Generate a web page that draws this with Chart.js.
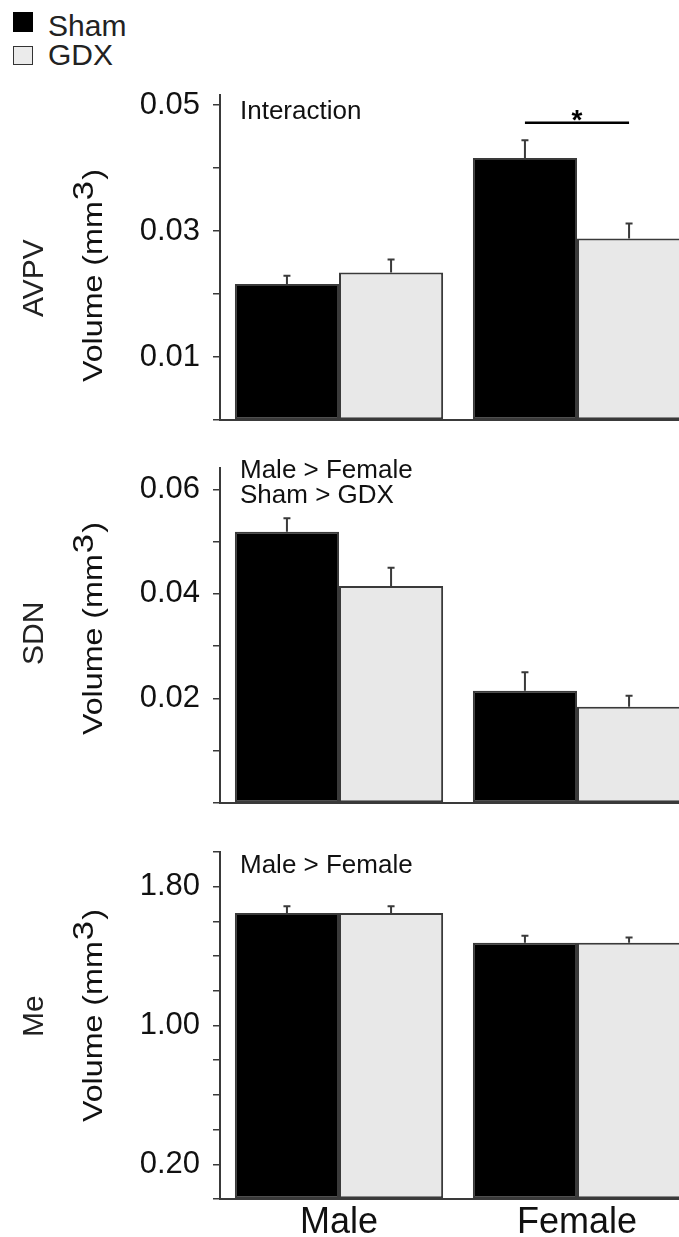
<!DOCTYPE html>
<html>
<head>
<meta charset="utf-8">
<script src="https://cdn.jsdelivr.net/npm/chart.js@4"></script>
<style>
html, body { margin: 0; padding: 0; overflow: hidden; background: #fff; width: 679px; height: 1237px; }
body { position: relative; font-family: 'Liberation Sans', Arial, sans-serif; }
canvas { position: absolute; left: 0; }
.key { position: absolute; left: 13px; width: 20px; height: 20px; box-sizing: border-box; }
.keytxt { position: absolute; left: 48px; font-size: 30px; line-height: 30px; color: #222; }
</style>
</head>
<body>
<div class="key" style="top:12px;background:#000"></div>
<div class="keytxt" style="top:11px">Sham</div>
<div class="key" style="top:46px;height:19px;background:#ebebeb;border:1.5px solid #333"></div>
<div class="keytxt" style="top:40px">GDX</div>
<canvas id="avpv" width="700" height="430" style="top:0"></canvas>
<canvas id="sdn" width="700" height="380" style="top:430px"></canvas>
<canvas id="me" width="700" height="427" style="top:810px"></canvas>
<script>
const groups = ['Male', 'Female'];

// AVPV
const avpvSham = [0.0216, 0.0416];
const avpvGdx = [0.0234, 0.0288];
const avpvShamErr = [0.0013, 0.0028];
const avpvGdxErr = [0.0021, 0.0024];
const avpvTicks = [0, 0.01, 0.02, 0.03, 0.04, 0.05];
const avpvTickLabels = ['', '0.01', '', '0.03', '', '0.05'];

// SDN
const sdnSham = [0.0519, 0.0215];
const sdnGdx = [0.0415, 0.0184];
const sdnShamErr = [0.0026, 0.0035];
const sdnGdxErr = [0.0035, 0.0021];
const sdnTicks = [0, 0.01, 0.02, 0.03, 0.04, 0.05, 0.06];
const sdnTickLabels = ['', '', '0.02', '', '0.04', '', '0.06'];

// Me
const meSham = [1.649, 1.477];
const meGdx = [1.649, 1.477];
const meShamErr = [0.038, 0.040];
const meGdxErr = [0.038, 0.030];
const meTicks = [0, 0.2, 0.4, 0.6, 0.8, 1.0, 1.2, 1.4, 1.6, 1.8, 2.0];
const meTickLabels = ['', '0.20', '', '', '', '1.00', '', '', '', '1.80', ''];

const FONT = "'Liberation Sans', Arial, sans-serif";
const INK = '#111';
const LINE = '#3a3a3a';

const errorBars = {
    id: 'errorBars',
    afterDatasetsDraw(chart) {
        const ctx = chart.ctx;
        const y = chart.scales.y;
        ctx.save();
        ctx.strokeStyle = LINE;
        ctx.lineWidth = 2;
        chart.data.datasets.forEach((ds, i) => {
            chart.getDatasetMeta(i).data.forEach((bar, j) => {
                const top = y.getPixelForValue(ds.data[j] + ds.errors[j]);
                ctx.beginPath();
                ctx.moveTo(bar.x, bar.y);
                ctx.lineTo(bar.x, top);
                ctx.moveTo(bar.x - 3.5, top);
                ctx.lineTo(bar.x + 3.5, top);
                ctx.stroke();
            });
        });
        ctx.restore();
    }
};

function vtext(ctx, x, y, draw) {
    ctx.save();
    ctx.translate(x, y);
    ctx.rotate(-Math.PI / 2);
    draw();
    ctx.restore();
}

const panelText = {
    id: 'panelText',
    afterDraw(chart, args, opts) {
        const ctx = chart.ctx;
        const area = chart.chartArea;
        ctx.save();
        ctx.fillStyle = INK;
        ctx.textBaseline = 'alphabetic';
        ctx.textAlign = 'left';

        ctx.font = '26px ' + FONT;
        opts.notes.forEach((t, k) => ctx.fillText(t, area.left + 20, area.top + opts.noteY + k * 25));

        // region name
        ctx.fillStyle = '#222';
        vtext(ctx, 43, opts.nameY, () => {
            ctx.font = '30px ' + FONT;
            ctx.fillText(opts.name, 0, 0);
        });

        // axis title with superscript
        ctx.fillStyle = INK;
        vtext(ctx, 102, opts.titleY, () => {
            ctx.scale(1.15, 1);
            ctx.font = '28px ' + FONT;
            const a = 'Volume (mm';
            ctx.fillText(a, 0, 0);
            let w = ctx.measureText(a).width;
            ctx.font = '30px ' + FONT;
            ctx.fillText('3', w + 1, -9);
            w += ctx.measureText('3').width + 2;
            ctx.font = '28px ' + FONT;
            ctx.fillText(')', w, 0);
        });

        if (opts.sig) {
            const y = chart.scales.y.getPixelForValue(opts.sig.level);
            const m0 = chart.getDatasetMeta(0).data[opts.sig.index];
            const m1 = chart.getDatasetMeta(1).data[opts.sig.index];
            ctx.strokeStyle = '#000';
            ctx.lineWidth = 2.5;
            ctx.beginPath();
            ctx.moveTo(m0.x, y);
            ctx.lineTo(m1.x, y);
            ctx.stroke();
            ctx.font = 'bold 28px ' + FONT;
            ctx.textAlign = 'center';
            ctx.fillStyle = '#000';
            ctx.fillText('*', (m0.x + m1.x) / 2, y + 6);
        }
        ctx.restore();
    }
};

function makePanel(id, sham, gdx, shamErr, gdxErr, yMax, ticks, tickLabels, pad, xHeight, text) {
    return new Chart(document.getElementById(id), {
        type: 'bar',
        data: {
            labels: groups,
            datasets: [
                { label: 'Sham', data: sham, errors: shamErr, backgroundColor: '#000', borderColor: LINE, borderWidth: 2, borderSkipped: false },
                { label: 'GDX', data: gdx, errors: gdxErr, backgroundColor: '#e8e8e8', borderColor: LINE, borderWidth: 2, borderSkipped: false }
            ]
        },
        options: {
            responsive: false,
            animation: false,
            events: [],
            categoryPercentage: 0.875,
            barPercentage: 1.0,
            layout: { padding: pad },
            plugins: {
                legend: { display: false },
                tooltip: { enabled: false },
                panelText: text
            },
            scales: {
                x: {
                    afterFit: s => { s.height = xHeight; s.paddingLeft = 0; s.paddingRight = 0; },
                    grid: { display: false, drawTicks: false },
                    border: { display: true, color: LINE, width: 2 },
                    ticks: {
                        display: xHeight > 0,
                        color: INK,
                        padding: 2,
                        font: { family: FONT, size: 36 }
                    }
                },
                y: {
                    min: 0,
                    max: yMax,
                    afterFit: s => { s.width = 220; s.paddingTop = 0; s.paddingBottom = 0; },
                    afterBuildTicks: s => { s.ticks = ticks.map(v => ({ value: v })); },
                    grid: { drawOnChartArea: false, drawTicks: true, tickLength: 7, color: LINE, lineWidth: 1.5 },
                    border: { display: true, color: LINE, width: 2 },
                    ticks: {
                        autoSkip: false,
                        padding: 13,
                        color: INK,
                        font: { family: FONT, size: 31 },
                        callback: (v, i) => tickLabels[i]
                    }
                }
            }
        },
        plugins: [errorBars, panelText]
    });
}

makePanel('avpv', avpvSham, avpvGdx, avpvShamErr, avpvGdxErr, 0.0516, avpvTicks, avpvTickLabels,
    { top: 95, bottom: 10, left: 0, right: 4 }, 0,
    { notes: ['Interaction'], noteY: 24, name: 'AVPV', nameY: 317, titleY: 382, sig: { level: 0.0472, index: 1 } });

makePanel('sdn', sdnSham, sdnGdx, sdnShamErr, sdnGdxErr, 0.0641, sdnTicks, sdnTickLabels,
    { top: 38, bottom: 7, left: 0, right: 4 }, 0,
    { notes: ['Male > Female', 'Sham > GDX'], noteY: 10, name: 'SDN', nameY: 235, titleY: 305 });

makePanel('me', meSham, meGdx, meShamErr, meGdxErr, 2.0, meTicks, meTickLabels,
    { top: 42, bottom: 0, left: 0, right: 4 }, 38,
    { notes: ['Male > Female'], noteY: 21, name: 'Me', nameY: 227, titleY: 312 });
</script>
</body>
</html>
